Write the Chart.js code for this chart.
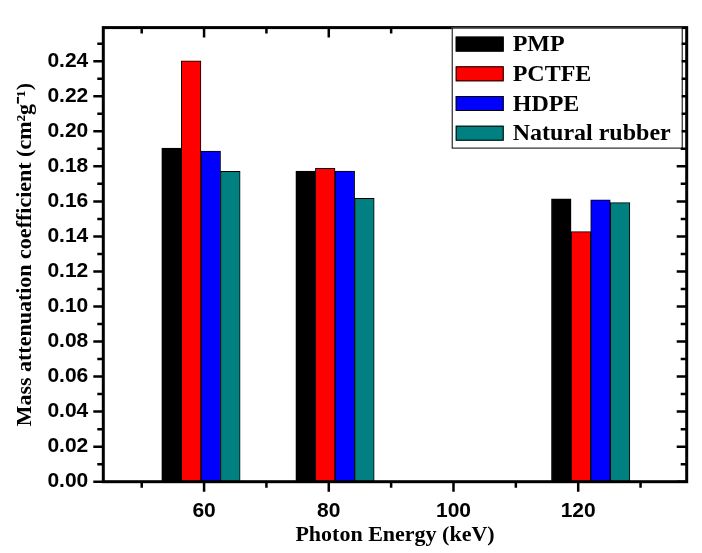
<!DOCTYPE html>
<html>
<head>
<meta charset="utf-8">
<script src="https://cdn.jsdelivr.net/npm/chart.js@4.4.1/dist/chart.umd.min.js"></script>
<style>
html, body { margin: 0; padding: 0; background: #fff; }
#wrap { width: 702px; height: 553px; }
</style>
</head>
<body>
<div id="wrap"><canvas id="grafico" width="702" height="553"></canvas></div>
<script>
// ======== DADOS ========
const energias = [59.5, 81, 122]; // keV das fontes
const materiais = ["PMP", "PCTFE", "HDPE", "Natural rubber"];
const valoresPMP = [0.1905, 0.1773, 0.1615];
const valoresPCTFE = [0.2402, 0.1789, 0.1427];
const valoresHDPE = [0.1887, 0.1773, 0.1609];
const valoresBorracha = [0.1771, 0.1618, 0.1593];
const cores = ["#000000", "#ff0000", "#0000ff", "#008080"];
const rotulosX = [60, 80, 100, 120];
const rotulosY = [0, 0.02, 0.04, 0.06, 0.08, 0.10, 0.12, 0.14, 0.16, 0.18, 0.20, 0.22, 0.24];

const serifa = '"Liberation Serif", "Times New Roman", serif';
const sans = '"Liberation Sans", Arial, sans-serif';

const series = [valoresPMP, valoresPCTFE, valoresHDPE, valoresBorracha];

function ehMaiorX(v) { return rotulosX.some(r => Math.abs(r - v) < 1e-6); }
function ehMaiorY(v) { return rotulosY.some(r => Math.abs(r - v) < 1e-6); }

// moldura estilo Origin com ticks nos quatro lados
const moldura = {
    id: "moldura",
    afterDatasetsDraw(chart) {
        const { ctx, chartArea: a, scales: { x, y } } = chart;
        ctx.save();
        ctx.strokeStyle = "#000";
        ctx.lineWidth = 2.5;
        ctx.beginPath();
        x.ticks.forEach(t => {
            const px = x.getPixelForValue(t.value);
            const len = ehMaiorX(t.value) ? 10 : 6;
            ctx.moveTo(px, a.bottom); ctx.lineTo(px, a.bottom + len);
            ctx.moveTo(px, a.top); ctx.lineTo(px, a.top + len);
        });
        y.ticks.forEach(t => {
            const py = y.getPixelForValue(t.value);
            const len = ehMaiorY(t.value) ? 10 : 6;
            ctx.moveTo(a.left, py); ctx.lineTo(a.left - len, py);
            ctx.moveTo(a.right, py); ctx.lineTo(a.right - len, py);
        });
        ctx.stroke();
        ctx.lineWidth = 3;
        ctx.strokeRect(a.left, a.top, a.right - a.left, a.bottom - a.top);
        ctx.restore();
    }
};

// legenda com caixa, dentro da área do gráfico
const legendaCaixa = {
    id: "legendaCaixa",
    afterDraw(chart) {
        const { ctx, chartArea: a } = chart;
        const ds = chart.data.datasets;
        ctx.save();
        ctx.font = "bold 24px " + serifa;
        const larguraTexto = Math.max(...ds.map(d => ctx.measureText(d.label).width));
        const largura = 4 + 48 + 9 + larguraTexto + 11;
        const altura = 120;
        const dir = a.right - 5;
        const esq = dir - largura;
        const topo = a.top;
        ctx.fillStyle = "#fff";
        ctx.fillRect(esq, topo, largura, altura);
        ctx.strokeStyle = "#000";
        ctx.lineWidth = 1;
        ctx.strokeRect(esq + 0.5, topo + 0.5, largura, altura);
        ds.forEach((d, i) => {
            const cy = topo + 16.5 + i * 29.7;
            ctx.fillStyle = d.backgroundColor;
            ctx.fillRect(esq + 4, cy - 7.5, 48, 15);
            ctx.strokeRect(esq + 4.5, cy - 7, 47, 14);
            ctx.fillStyle = "#000";
            ctx.textBaseline = "middle";
            ctx.textAlign = "left";
            ctx.fillText(d.label, esq + 61, cy + 1);
        });
        ctx.restore();
    }
};

const grafico = document.getElementById("grafico");

new Chart(grafico, {
    type: "bar",
    data: {
        datasets: materiais.map((m, k) => ({
            label: m,
            data: energias.map((e, i) => ({ x: e, y: series[k][i] })),
            backgroundColor: cores[k],
            borderColor: "#000",
            borderWidth: 1,
            borderSkipped: false,
            barThickness: 19.6
        }))
    },
    options: {
        responsive: false,
        animation: false,
        devicePixelRatio: 1,
        layout: { padding: { left: 0, top: 12.7, right: 15.3, bottom: 0 } },
        plugins: {
            legend: { display: false },
            tooltip: { enabled: false }
        },
        scales: {
            x: {
                type: "linear",
                min: 43.84,
                max: 137.4,
                offset: false,
                grid: { display: false, drawTicks: false, offset: false },
                border: { display: false },
                ticks: {
                    stepSize: 10,
                    includeBounds: false,
                    padding: 17,
                    autoSkip: false,
                    maxRotation: 0,
                    color: "#000",
                    font: { family: sans, size: 21, weight: "bold" },
                    callback: v => ehMaiorX(v) ? String(v) : ""
                },
                title: {
                    display: true,
                    text: "Photon Energy (keV)",
                    color: "#000",
                    font: { family: serifa, size: 22, weight: "bold" },
                    padding: { top: 0, bottom: 4 }
                },
                afterFit: s => { s.height = 71.3; }
            },
            y: {
                min: 0,
                max: 0.2592,
                grid: { display: false, drawTicks: false },
                border: { display: false },
                ticks: {
                    stepSize: 0.01,
                    includeBounds: false,
                    padding: 15,
                    autoSkip: false,
                    color: "#000",
                    font: { family: sans, size: 21, weight: "bold" },
                    callback: v => ehMaiorY(v) ? v.toFixed(2) : ""
                },
                title: {
                    display: true,
                    text: "Mass attenuation coefficient (cm²g⁻¹)",
                    color: "#000",
                    font: { family: serifa, size: 22, weight: "bold" },
                    padding: { top: 12, bottom: 0 }
                },
                afterFit: s => { s.width = 103.3; }
            }
        }
    },
    plugins: [moldura, legendaCaixa]
});
</script>
</body>
</html>
